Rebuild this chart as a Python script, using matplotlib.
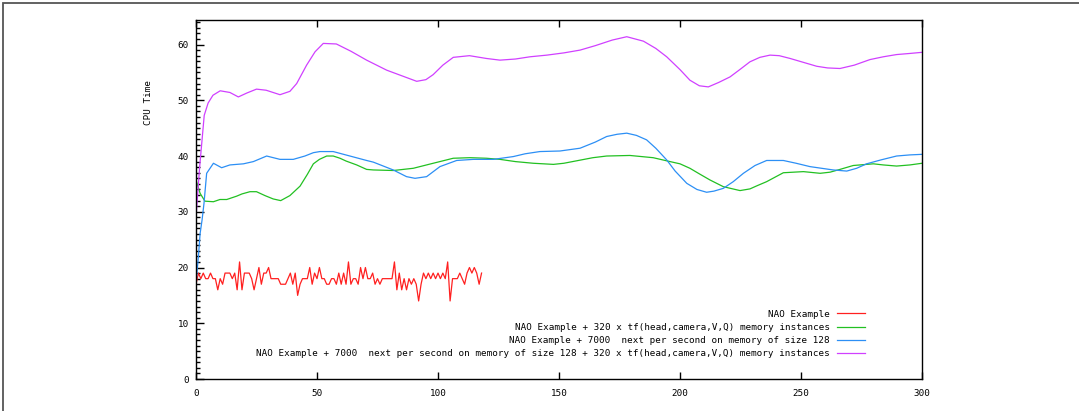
import matplotlib
matplotlib.use("Agg")
import matplotlib.pyplot as plt
from matplotlib.patches import Rectangle
from matplotlib.ticker import MultipleLocator

# --- data ---
labels = [
    "NAO Example",
    "NAO Example + 320 x tf(head,camera,V,Q) memory instances",
    "NAO Example + 7000  next per second on memory of size 128",
    "NAO Example + 7000  next per second on memory of size 128 + 320 x tf(head,camera,V,Q) memory instances",
]
colors = ["#ff2020", "#22c022", "#2c8ff5", "#d040ff"]

nao_y = [17, 19, 18, 19, 18, 18, 19, 18, 18, 16,
         18, 17, 19, 19, 19, 18, 19, 16, 21, 16,
         19, 19, 19, 18, 16, 18, 20, 17, 19, 19,
         20, 18, 18, 18, 18, 17, 17, 17, 18, 19,
         17, 19, 15, 17, 18, 18, 18, 20, 17, 19,
         18, 20, 18, 18, 17, 17, 18, 18, 17, 19,
         17, 19, 17, 21, 17, 18, 18, 17, 20, 18,
         20, 18, 18, 19, 17, 18, 17, 18, 18, 18,
         18, 18, 21, 16, 19, 16, 18, 16, 18, 17,
         18, 17, 14, 17, 19, 18, 19, 18, 19, 18,
         19, 18, 19, 18, 21, 14, 18, 18, 18, 19,
         18, 17, 19, 20, 19, 20, 19, 17, 19]
nao_x = list(range(len(nao_y)))

tf_x = [0, 1.7, 3.7, 7.2, 9.9, 12.7, 16.8, 19, 22.3, 25,
        28.5, 31.9, 35, 38.8, 43, 46, 48.5, 51, 54, 56.7,
        59.5, 62, 66.4, 70.5, 73.3, 81.5, 89.8, 98, 106.3, 113.2,
        120, 125.6, 132, 139.4, 147.7, 152, 158, 164, 169.7, 179.3,
        188.9, 195.9, 200, 204.1, 208, 212.4, 217.9, 224.8, 228.9, 232,
        235.8, 242.7, 251, 257.9, 262, 266.1, 271.6, 279.9, 284, 289.5,
        295, 300]
tf_y = [35.7, 33.3, 31.9, 31.8, 32.2, 32.2, 32.8, 33.2, 33.6, 33.6,
        32.9, 32.3, 32.0, 32.9, 34.6, 36.7, 38.6, 39.4, 40.0, 40.0,
        39.6, 39.1, 38.4, 37.6, 37.5, 37.4, 37.8, 38.7, 39.6, 39.7,
        39.6, 39.4, 39.0, 38.7, 38.5, 38.7, 39.2, 39.7, 40.0, 40.1,
        39.7, 39.0, 38.6, 37.8, 36.8, 35.7, 34.5, 33.8, 34.1, 34.7,
        35.4, 37.0, 37.2, 36.9, 37.1, 37.6, 38.3, 38.6, 38.4, 38.2,
        38.4, 38.7]

next_x = [0, 1, 1.7, 2.5, 3.3, 4.4, 7.2, 10.6, 14, 19.6,
          23.7, 29.2, 34.7, 40.2, 45, 48.5, 51.2, 56.7, 63.6, 70.5,
          73.3, 81.5, 87, 90.5, 95.3, 100.8, 107.7, 114.6, 122.9, 131.1,
          136, 142.1, 150.4, 158.7, 165, 169.7, 174, 178, 182, 186.2,
          190, 194.5, 198, 202.8, 207, 211, 214, 217.9, 222, 226.2,
          231, 235.8, 242.7, 248, 253.7, 263.3, 268.9, 273, 277.1, 283,
          289.5, 295, 300]
next_y = [17.2, 22, 26.1, 28.5, 31.5, 36.9, 38.7, 37.9, 38.4, 38.6,
          39.0, 40.0, 39.4, 39.4, 40.0, 40.6, 40.8, 40.8, 40.0, 39.2,
          38.9, 37.5, 36.3, 36.0, 36.3, 38.1, 39.2, 39.4, 39.4, 39.9,
          40.4, 40.8, 40.9, 41.4, 42.5, 43.5, 43.9, 44.1, 43.7, 42.9,
          41.4, 39.3, 37.3, 35.1, 34.0, 33.5, 33.7, 34.2, 35.4, 36.9,
          38.3, 39.2, 39.2, 38.7, 38.1, 37.5, 37.3, 37.8, 38.6, 39.3,
          40.0, 40.2, 40.3]

both_x = [0, 1.5, 3.4, 5, 7, 10, 14, 17.5, 21, 25,
          29, 34.7, 38.8, 41.6, 45.7, 49.2, 52.6, 58, 64, 70.5,
          78.8, 85, 91.2, 95, 98, 102, 106.3, 113, 120, 125.6,
          132, 138, 145, 152, 158.7, 165, 172, 178, 184.9, 190,
          194.5, 200, 204.1, 208, 211.7, 216, 220.7, 225, 228.9, 233,
          237.2, 241, 245.5, 251, 256.5, 261, 266.1, 272, 278.5, 284,
          289.5, 295, 300]
both_y = [29, 38, 47.3, 49.5, 50.9, 51.7, 51.4, 50.6, 51.3, 52.0,
          51.8, 51.0, 51.6, 53.0, 56.3, 58.7, 60.2, 60.1, 58.8, 57.2,
          55.4, 54.4, 53.4, 53.7, 54.6, 56.3, 57.7, 58.0, 57.5, 57.2,
          57.4, 57.8, 58.1, 58.5, 59.0, 59.8, 60.8, 61.4, 60.6, 59.3,
          57.8, 55.5, 53.6, 52.6, 52.4, 53.2, 54.2, 55.6, 56.9, 57.7,
          58.1, 58.0, 57.5, 56.8, 56.1, 55.8, 55.7, 56.3, 57.3, 57.8,
          58.2, 58.4, 58.6]

series = [(nao_x, nao_y), (tf_x, tf_y), (next_x, next_y), (both_x, both_y)]

plt.rcParams["font.family"] = ["DejaVu Sans Mono"]
plt.rcParams["font.size"] = 6.7

fig = plt.figure(figsize=(10.79, 4.11), dpi=100)
ax = fig.add_axes([196 / 1079, 32 / 411, 726 / 1079, 359 / 411])

for (xs, ys), lab, col in zip(series, labels, colors):
    ax.plot(xs, ys, color=col, lw=0.9, label=lab)

ax.set_xlim(0, 300)
ax.set_ylim(0, 64.4)
ax.xaxis.set_major_locator(MultipleLocator(50))
ax.yaxis.set_major_locator(MultipleLocator(10))
ax.yaxis.set_minor_locator(MultipleLocator(1))

ax.tick_params(axis="y", which="major", direction="in", length=6, width=1, pad=5, right=False)
ax.tick_params(axis="y", which="minor", direction="in", length=3, width=1, right=False)
ax.tick_params(axis="x", which="major", direction="in", length=5, width=1, pad=7, top=True)
ax.tick_params(axis="x", which="minor", bottom=False, top=False)
for s in ax.spines.values():
    s.set_linewidth(1)
    s.set_color("black")

ax.set_ylabel("CPU Time")
ax.yaxis.set_label_coords(-0.059, 0.77)

leg = ax.legend(loc="lower right", bbox_to_anchor=(0.9215, 0.058), frameon=False,
                markerfirst=False, handlelength=3.0, handletextpad=0.75,
                labelspacing=0.45, borderpad=0, borderaxespad=0)

# outer frame around the picture
fig.add_artist(Rectangle((3 / 1079, -0.02), 1.05, 1 - 2.7 / 411 + 0.02,
                         transform=fig.transFigure, fill=False,
                         edgecolor="#555555", lw=1.3))

fig.savefig("out.png", dpi=100)
